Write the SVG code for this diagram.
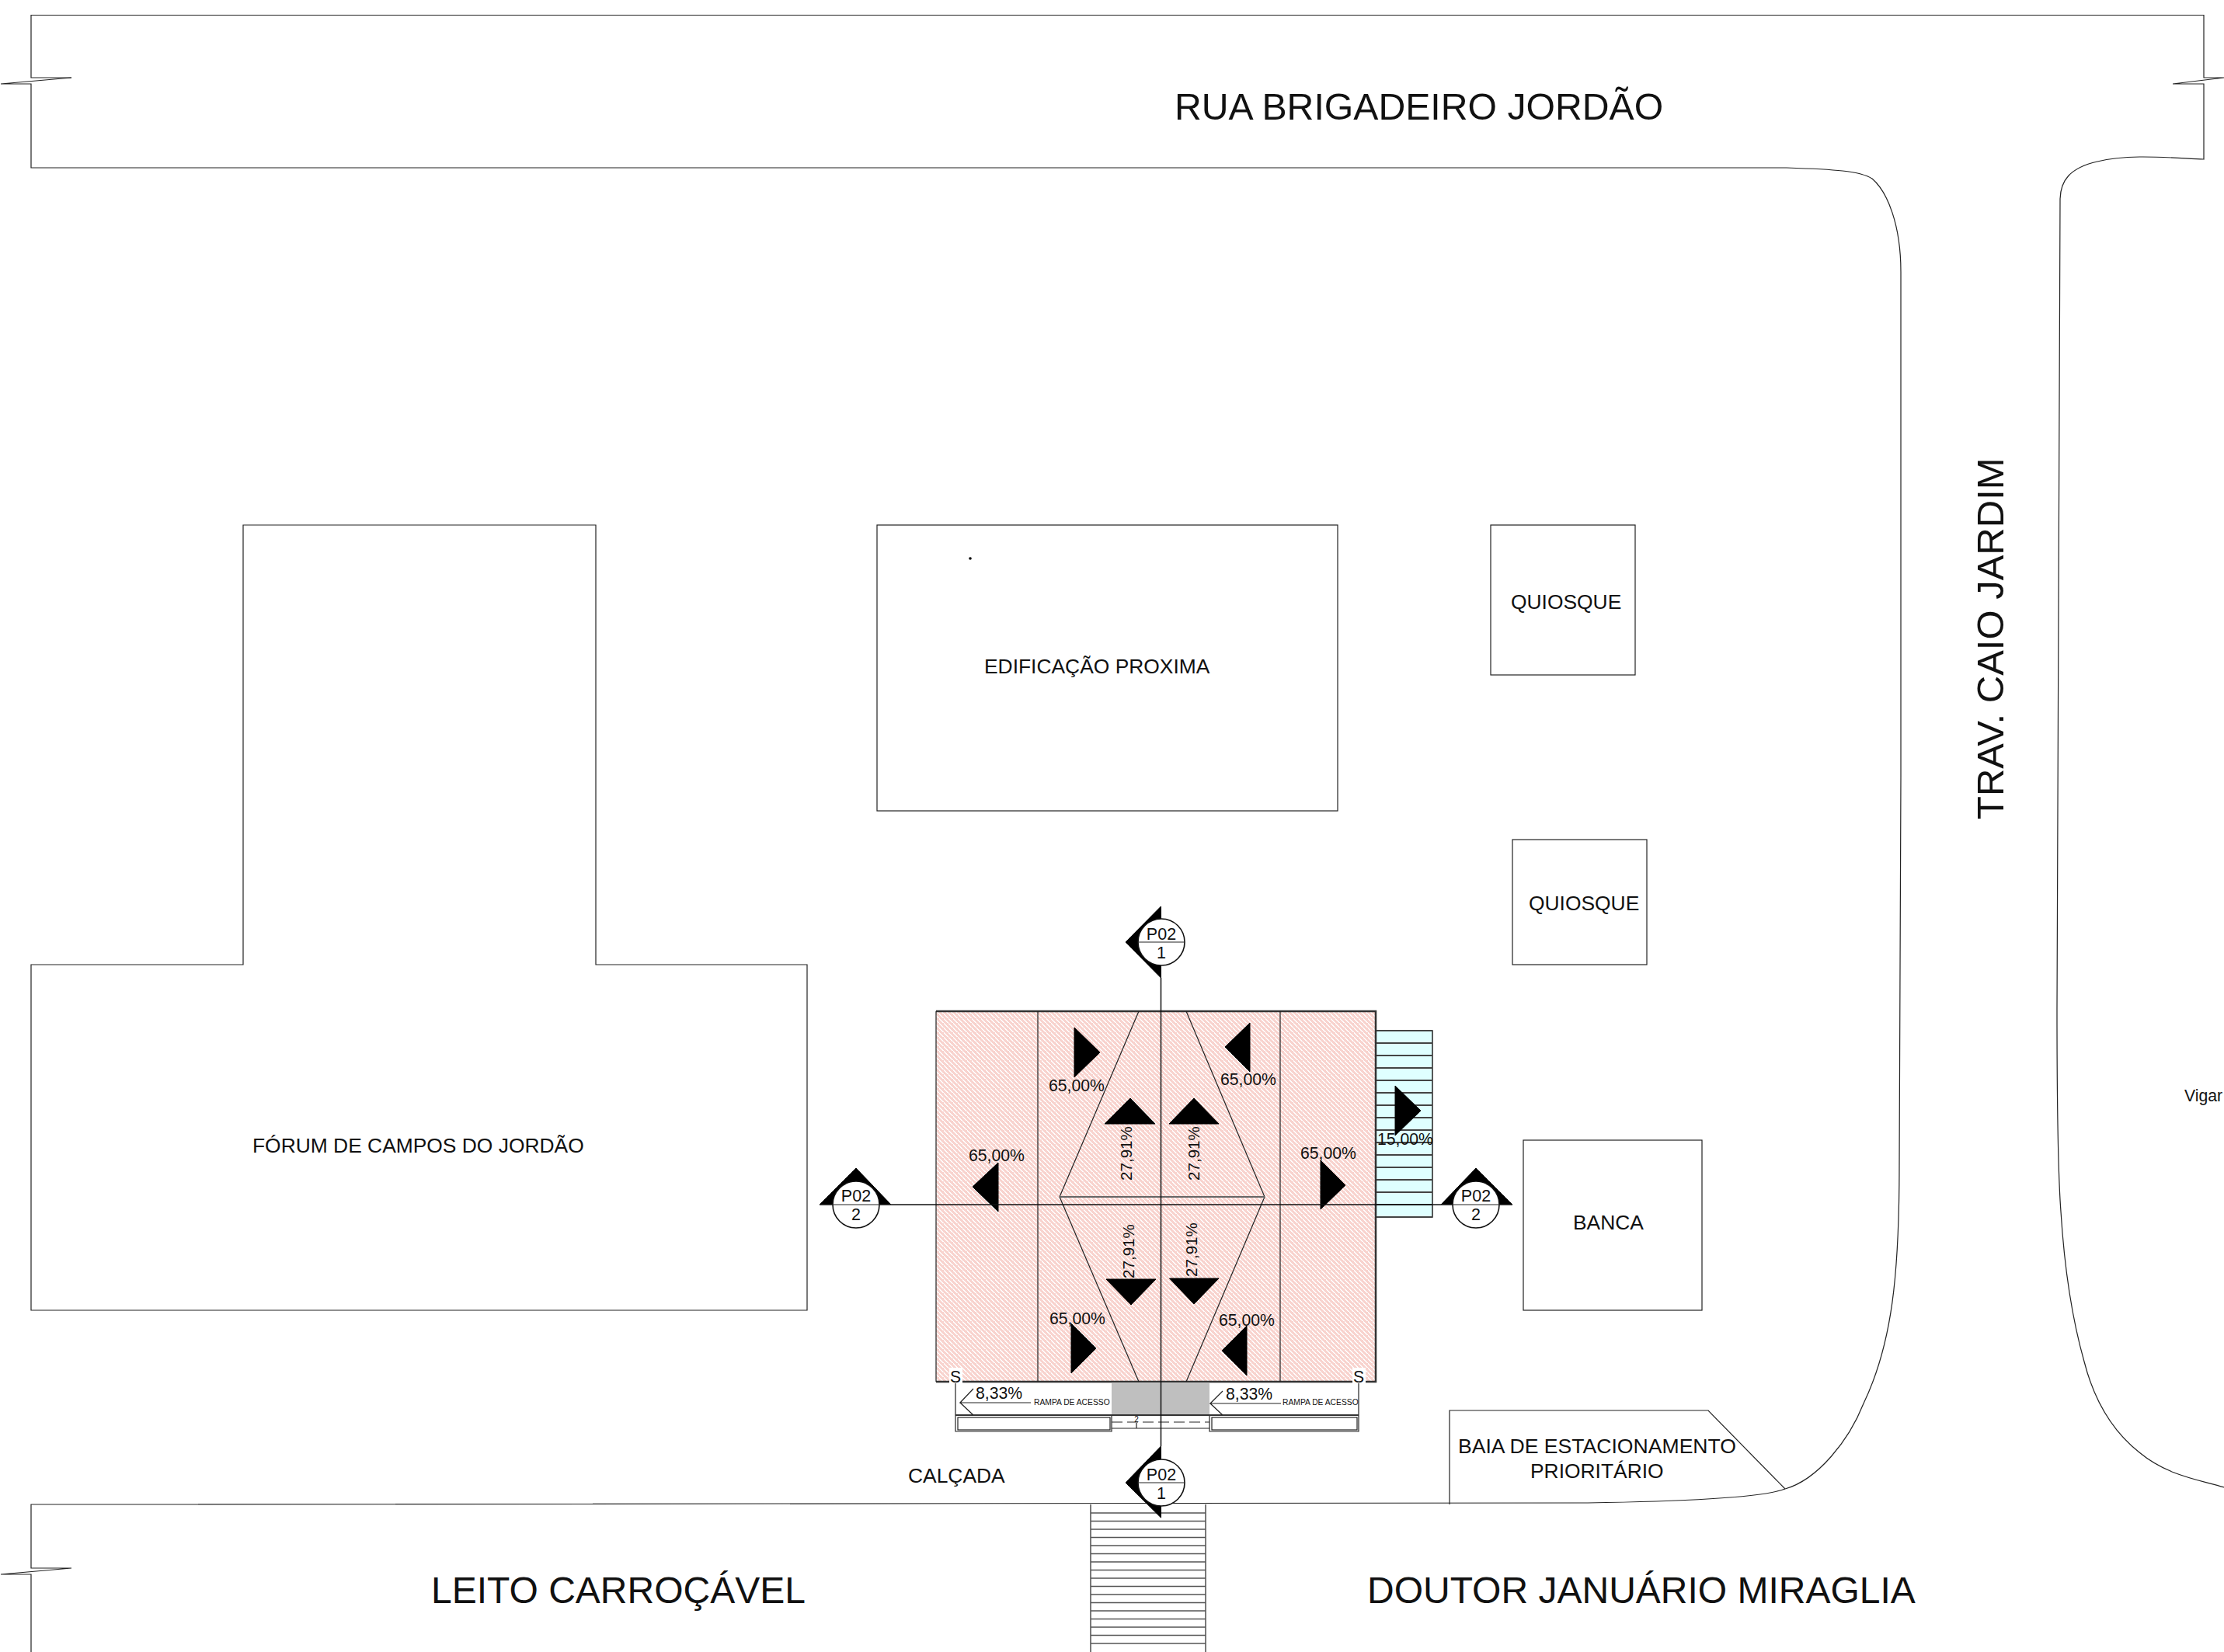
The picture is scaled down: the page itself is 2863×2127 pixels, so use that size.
<svg xmlns="http://www.w3.org/2000/svg" width="2863" height="2127" viewBox="0 0 2863 2127">
<style>
text{font-family:"Liberation Sans",Arial,sans-serif;fill:#111}
.l{fill:none;stroke:#222;stroke-width:1.2}
.m{fill:none;stroke:#333;stroke-width:1.8}
.s{fill:none;stroke:#555;stroke-width:1.5}
.h{fill:none;stroke:#444;stroke-width:2}
.a{fill:#000;stroke:#000;stroke-width:1;stroke-linejoin:round}
.big{font-size:48.200px}
.lab{font-size:26.400px}
.pc{font-size:21.200px}
.rot{font-size:20.600px}
.tag{font-size:21.500px;text-anchor:middle}
.ramp{font-size:10.300px}
.cut{fill:#fff;stroke:#111;stroke-width:1.6}
</style>
<defs>
<pattern id="roof" width="6" height="6" patternUnits="userSpaceOnUse">
<rect width="6" height="6" fill="#f8d3ce"/>
<rect x="0" y="0" width="1" height="2" fill="#fff"/>
<rect x="1" y="1" width="1" height="2" fill="#fff"/>
<rect x="2" y="2" width="1" height="1" fill="#fff"/>
<rect x="3" y="3" width="1" height="2" fill="#fff"/>
<rect x="4" y="4" width="1" height="2" fill="#fff"/>
<rect x="5" y="0" width="1" height="1" fill="#fff"/>
<rect x="5" y="5" width="1" height="1" fill="#fff"/>
</pattern>
</defs>
<rect width="2863" height="2127" fill="#fff"/>

<g id="ruas">
<path class="l" d="M92,100 L40,100 L40,19.500 L2837,19.500 L2837,100 L2863,100 L2797,108 L2837,108 L2837,205 C2790,203 2740,198 2700,208 C2665,216 2652,232 2652,258 L2648,1300 C2648,1420 2650,1520 2653,1560 C2658,1640 2668,1700 2683,1753 C2695,1800 2716,1840 2754,1870 C2790,1900 2830,1905 2863,1915"/>
<path class="l" d="M92,100 L1,108 L40,108 L40,216 L2300,216 C2360,218 2395,220 2410,230 C2430,247 2447,290 2447,350 L2447,1000 L2445,1500 C2445,1640 2436,1730 2399,1807 C2380,1855 2340,1905 2298,1917 C2270,1928 2180,1933 2044,1935 L40,1937 L40,2019 L92,2019 L1,2027 L40,2027 L40,2127"/>
</g>

<g id="forum">
<path class="l" d="M313,676 L767,676 L767,1242 L1039,1242 L1039,1687 L40,1687 L40,1242 L313,1242 Z"/>
<text class="lab" x="325" y="1484">FÓRUM DE CAMPOS DO JORDÃO</text>
</g>
<g id="edificacao">
<rect class="l" x="1129" y="676" width="593" height="368"/>
<circle cx="1249" cy="719" r="1.8" fill="#000"/>
<text class="lab" x="1267" y="867">EDIFICAÇÃO PROXIMA</text>
</g>
<g id="quiosque1">
<rect class="l" x="1919" y="676" width="186" height="193"/>
<text class="lab" x="1945" y="784">QUIOSQUE</text>
</g>
<g id="quiosque2">
<rect class="l" x="1947" y="1081" width="173" height="161"/>
<text class="lab" x="1968" y="1172">QUIOSQUE</text>
</g>
<g id="banca">
<rect class="l" x="1961" y="1468" width="230" height="219"/>
<text class="lab" x="2025" y="1583">BANCA</text>
</g>
<g id="baia">
<path class="l" d="M1866,1937 L1866,1816 L2199,1816 L2298,1917"/>
<text class="lab" x="1877" y="1871" textLength="358" lengthAdjust="spacingAndGlyphs">BAIA DE ESTACIONAMENTO</text>
<text class="lab" x="1970" y="1903">PRIORITÁRIO</text>
</g>
<g id="calcada"><text class="lab" x="1169" y="1909">CALÇADA</text></g>
<g id="vias">
<text class="big" x="1512" y="154">RUA BRIGADEIRO JORDÃO</text>
<text class="big" style="font-size:49px" transform="translate(2579,1055) rotate(-90)">TRAV. CAIO JARDIM</text>
<text class="big" x="555" y="2064" style="font-size:48px">LEITO CARROÇÁVEL</text>
<text class="big" x="1760" y="2064" style="font-size:48px">DOUTOR JANUÁRIO MIRAGLIA</text>
<text class="pc" x="2812" y="1418">Vigar</text>
</g>

<g id="faixa">
<path class="l" d="M1404,1937 V2127 M1552,1937 V2127"/>
<path class="s" d="M1404,1948H1552M1404,1958.500H1552M1404,1969H1552M1404,1979.500H1552M1404,1990H1552M1404,2000.500H1552M1404,2011H1552M1404,2021.500H1552M1404,2032H1552M1404,2042.500H1552M1404,2053H1552M1404,2063.500H1552M1404,2074H1552M1404,2084.500H1552M1404,2095H1552M1404,2105.500H1552M1404,2116H1552"/>
</g>

<g id="cobertura-lateral">
<rect x="1771" y="1327" width="73" height="240" fill="#dfffff" stroke="#222" stroke-width="1.5"/>
<path class="h" d="M1771,1327H1844M1771,1343H1844M1771,1359H1844M1771,1375H1844M1771,1391H1844M1771,1407H1844M1771,1423H1844M1771,1439H1844M1771,1455H1844M1771,1471H1844M1771,1487H1844M1771,1503H1844M1771,1519H1844M1771,1535H1844M1771,1551H1844M1771,1567H1844"/>
</g>

<g id="telhado">
<rect x="1205" y="1302" width="566" height="477" fill="url(#roof)"/>
<path d="M1205,1302 H1771 V1779 H1205" fill="none" stroke="#333" stroke-width="2.500"/>
<path class="l" d="M1205,1302V1779M1336,1302V1779M1648,1302V1779"/>
<path class="l" d="M1466,1302 L1364,1541 L1466,1779 M1527,1302 L1628,1541 L1527,1779"/>
<path d="M1364,1541H1628" fill="none" stroke="#666" stroke-width="2"/>
</g>

<g id="rampa">
<rect x="1431" y="1781" width="126" height="41" fill="#bfbfbf"/>
<path class="l" d="M1230,1781V1843H1431V1822M1749,1781V1843H1557V1822"/>
<path class="m" d="M1230,1822H1749"/>
<rect class="l" x="1233" y="1825" width="196" height="16"/>
<rect class="l" x="1560" y="1825" width="187" height="16"/>
<path class="l" d="M1431,1831H1557" stroke-dasharray="14 6"/>
<path class="l" d="M1431,1839H1557M1463,1832V1839"/>
<text x="1463" y="1831" font-size="10" text-anchor="middle">2</text>
<path class="l" d="M1327,1806H1236L1253,1788M1236,1806L1253,1822"/>
<path class="l" d="M1649,1807H1558L1574,1791M1558,1807L1574,1822"/>
<rect x="1256" y="1781" width="61" height="22" fill="#fff"/>
<text class="pc" x="1256" y="1801">8,33%</text>
<text class="pc" x="1578" y="1802">8,33%</text>
<text class="ramp" x="1331" y="1809">RAMPA DE ACESSO</text>
<text class="ramp" x="1651" y="1809">RAMPA DE ACESSO</text>
<rect x="1222" y="1761" width="17" height="20" fill="#fff"/>
<rect x="1741" y="1761" width="17" height="20" fill="#fff"/>
<text class="pc" x="1223" y="1780">S</text>
<text class="pc" x="1742" y="1780">S</text>
</g>

<g id="setas">
<path class="a" d="M1383,1323L1416,1355L1383,1387ZM1609,1317L1577,1348L1609,1380ZM1455,1414L1487,1447H1422ZM1537,1414L1569,1447H1505ZM1285,1497L1252,1528L1285,1560ZM1700,1494L1732,1526L1700,1557ZM1796,1398L1829,1430L1796,1462ZM1424,1647H1488L1456,1680ZM1505.500,1646H1569L1537,1679ZM1379,1704L1411,1736L1379,1768ZM1605,1707L1573,1739L1605,1771Z"/>
<text class="pc" x="1350" y="1405">65,00%</text>
<text class="pc" x="1571" y="1397">65,00%</text>
<text class="pc" x="1247" y="1495">65,00%</text>
<text class="pc" x="1674" y="1492">65,00%</text>
<text class="pc" x="1351" y="1705">65,00%</text>
<text class="pc" x="1569" y="1707">65,00%</text>
<text class="pc" x="1773" y="1474">15,00%</text>
<text class="rot" transform="translate(1457,1520) rotate(-90)">27,91%</text>
<text class="rot" transform="translate(1544,1520) rotate(-90)">27,91%</text>
<text class="rot" transform="translate(1460,1646) rotate(-90)">27,91%</text>
<text class="rot" transform="translate(1541,1644) rotate(-90)">27,91%</text>
</g>

<g id="corte-conectores">
<path d="M1494.500,1259V1862M1147,1551H1855" fill="none" stroke="#111" stroke-width="1.500"/>
</g>

<g id="corte-1-topo">
<path class="a" d="M1494.500,1167L1449,1213L1494.500,1259Z"/>
<circle class="cut" cx="1495" cy="1213" r="30"/>
<path class="l" d="M1465,1213H1525"/>
<text class="tag" x="1495" y="1210">P02</text>
<text class="tag" x="1495" y="1234">1</text>
</g>
<g id="corte-1-base">
<path class="a" d="M1494.500,1862L1449,1909L1494.500,1954Z"/>
<circle class="cut" cx="1495" cy="1909" r="30"/>
<path class="l" d="M1465,1909H1525"/>
<text class="tag" x="1495" y="1906">P02</text>
<text class="tag" x="1495" y="1930">1</text>
</g>
<g id="corte-2-esq">
<path class="a" d="M1055,1551L1102,1504L1147,1551Z"/>
<circle class="cut" cx="1102" cy="1551" r="30"/>
<path class="l" d="M1055,1551H1147"/>
<text class="tag" x="1102" y="1547">P02</text>
<text class="tag" x="1102" y="1571">2</text>
</g>
<g id="corte-2-dir">
<path class="a" d="M1855,1551L1900,1504L1947,1551Z"/>
<circle class="cut" cx="1900" cy="1551" r="30"/>
<path class="l" d="M1855,1551H1947"/>
<text class="tag" x="1900" y="1547">P02</text>
<text class="tag" x="1900" y="1571">2</text>
</g>
</svg>
